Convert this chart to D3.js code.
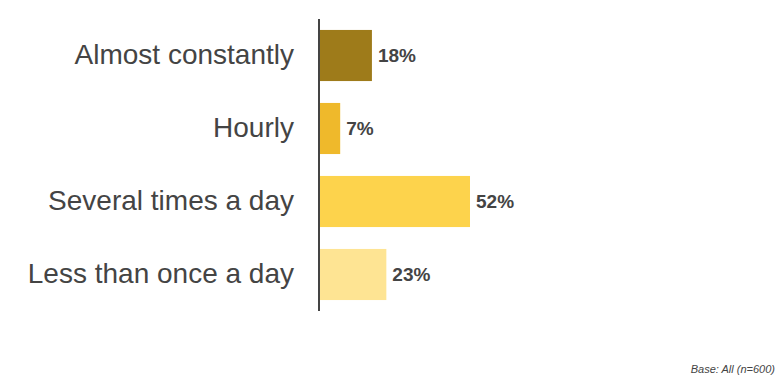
<!DOCTYPE html>
<html>
<head>
<meta charset="utf-8">
<script src="https://cdn.jsdelivr.net/npm/d3@7"></script>
<style>
  body { margin: 0; background: #fff; }
  svg { display: block; font-family: "Liberation Sans", Arial, sans-serif; }
</style>
</head>
<body>
<svg id="chart"></svg>
<script>
const categories = ["Almost constantly", "Hourly", "Several times a day", "Less than once a day"];
const values = [18, 7, 52, 23];
const colors = ["#9e7b1a", "#efb92b", "#fdd34c", "#fee493"];
const baseNote = "Base: All (n=600)";

const width = 783, height = 385;
const svg = d3.select("#chart").attr("width", width).attr("height", height);

const axisX = 319;
const x = d3.scaleLinear().domain([0, 52]).range([axisX + 1, 470]);
const y = d3.scaleBand()
  .domain(categories)
  .range([19, 311])
  .paddingInner(0.3)
  .paddingOuter(0.15);

// bars
svg.append("g")
  .selectAll("rect")
  .data(values)
  .join("rect")
  .attr("x", x(0))
  .attr("y", (d, i) => y(categories[i]))
  .attr("width", d => x(d) - x(0))
  .attr("height", y.bandwidth())
  .attr("fill", (d, i) => colors[i]);

// value labels
svg.append("g")
  .selectAll("text")
  .data(values)
  .join("text")
  .attr("x", d => x(d) + 6)
  .attr("y", (d, i) => y(categories[i]) + y.bandwidth() / 2)
  .attr("dy", "0.35em")
  .attr("font-size", 19)
  .attr("font-weight", "bold")
  .attr("fill", "#444")
  .text(d => d + "%");

// category axis
const yAxis = svg.append("g")
  .attr("transform", `translate(${axisX},0)`)
  .call(d3.axisLeft(y).tickSize(0).tickPadding(25));
yAxis.select(".domain")
  .attr("d", `M0,19V311`)
  .attr("stroke", "#444")
  .attr("stroke-width", 2);
yAxis.selectAll("text")
  .attr("font-size", 28)
  .attr("font-family", "Liberation Sans, Arial, sans-serif")
  .attr("fill", "#444");

// base note
svg.append("text")
  .attr("x", 775)
  .attr("y", 373)
  .attr("text-anchor", "end")
  .attr("font-size", 11)
  .attr("font-style", "italic")
  .attr("fill", "#444")
  .text(baseNote);
</script>
</body>
</html>
